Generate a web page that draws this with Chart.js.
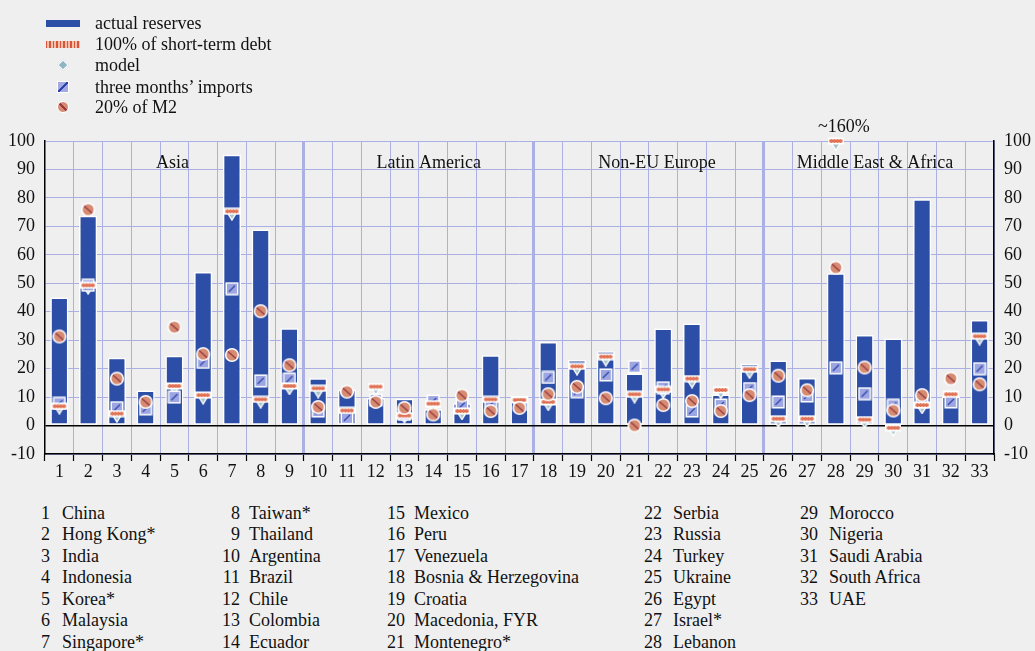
<!DOCTYPE html>
<html lang="en">
<head>
<meta charset="UTF-8">
<title>Reserve adequacy measures</title>
<script src="https://cdn.jsdelivr.net/npm/chart.js"></script>
<style>
    body {
        margin: 0;
        background: #efefef;
        font-family: "Liberation Serif", "Times New Roman", serif;
        color: #111;
    }
    #wrap { position: relative; width: 1035px; height: 651px; overflow: hidden; }
    #chart { position: absolute; left: 0; top: 0; }
    .sym { position: absolute; box-sizing: border-box; }
    .leg-text { position: absolute; left: 95px; font-size: 18px; line-height: 20px; white-space: nowrap; }
    .num, .name { position: absolute; font-size: 18px; line-height: 20px; white-space: nowrap; }
    .num { text-align: right; width: 30px; }
</style>
</head>
<body>
<div id="wrap">
    <canvas id="chart" width="1035" height="490"></canvas>
    <div id="legend"></div>
    <div id="names"></div>
</div>

<script>
    // categories (country numbers) and country names
    const categories = ['1','2','3','4','5','6','7','8','9','10','11','12','13','14','15','16','17',
        '18','19','20','21','22','23','24','25','26','27','28','29','30','31','32','33'];
    const countryNames = ['China','Hong Kong*','India','Indonesia','Korea*','Malaysia','Singapore*',
        'Taiwan*','Thailand','Argentina','Brazil','Chile','Colombia','Ecuador',
        'Mexico','Peru','Venezuela','Bosnia & Herzegovina','Croatia','Macedonia, FYR','Montenegro*',
        'Serbia','Russia','Turkey','Ukraine','Egypt','Israel*','Lebanon',
        'Morocco','Nigeria','Saudi Arabia','South Africa','UAE'];

    // regions: name, first and last category index
    const regionNames = ['Asia', 'Latin America', 'Non-EU Europe', 'Middle East & Africa'];
    const regionFirst = [0, 9, 17, 25];
    const regionLast = [8, 16, 24, 32];

    // series, % of GDP
    const actualReserves = [45, 73.7, 23.8, 12.3, 24.5, 54, 95.2, 68.9, 34.2,
        16.6, 12.6, 9.7, 9.4, 5.7, 7.8, 24.7, 10.4,
        29.4, 23, 26.1, 18.3, 34.1, 35.9, 10.9, 21.8,
        22.9, 16.7, 53.5, 31.8, 30.6, 79.5, 10.2, 37.1];
    const shortTermDebt = [6.8, 49.3, 4.2, null, 13.9, 10.7, 75.3, 9.2, 13.9,
        13.1, 5.3, 13.7, 3.5, 7.7, 5.1, 9.2, 9.0,
        8.3, 20.8, 24.2, 11.0, 12.7, 16.5, 12.5, 19.8,
        2.4, 2.4, 160, 2.1, -0.8, 7.2, 11.0, 31.4];
    const modelLevel = [5.9, 48, 3, null, 12.7, 9.4, 74, 8, 12.7,
        11.6, 4.5, 12.5, 2.7, 6.8, 3.9, 8, 7.8,
        7.1, 19.6, 22.8, 9.8, 11.4, 15.1, 11.3, 18.4,
        1.2, 1.2, 98.5, 0.9, -1.8, 6, 10, 30.2];
    const importsCover = [7.8, 49.3, 6.3, 5.9, 10, 22.2, 48.1, 15.7, 16.3,
        5.1, 2.7, 9, 3.9, 8.6, 7.1, 7.4, 7.4,
        16.9, 11.9, 17.8, 20.7, 13.3, 5.1, 7.2, 13,
        8.3, 10.4, 20.3, 11.2, 7.1, 8.3, 8.3, 20];
    const m2Share = [31.3, 75.9, 16.5, 8.3, 34.6, 25.1, 24.8, 40.2, 21.2,
        6.5, 11.9, 8.3, 6.2, 3.9, 10.6, 5.1, 6.2,
        11, 13.6, 9.6, 0, 7.2, 8.6, 5.1, 10.7,
        17.5, 12.4, 55.5, 20.4, 5.3, 10.7, 16.5, 14.5];
    const yTicks = [-10, 0, 10, 20, 30, 40, 50, 60, 70, 80, 90, 100];

    const gridColor = '#aab0e4';
    const barColor = '#2d4ea7';
    const serif = 'Liberation Serif';

    // the chart is cut at 100, values above are drawn on the top edge
    const yMax = 100;
    const clipTop = v => (v === null ? null : Math.min(v, yMax));

    // little marker pictures
    function makeIcon(w, h, draw) {
        const c = document.createElement('canvas');
        c.width = w; c.height = h;
        draw(c.getContext('2d'));
        return c;
    }
    const m2Icon = makeIcon(16, 16, g => {
        g.beginPath(); g.arc(8, 8, 6.3, 0, Math.PI * 2);
        g.fillStyle = '#d68b73'; g.fill();
        g.save(); g.clip();
        g.beginPath(); g.moveTo(3, 3.5); g.lineTo(13, 12.5);
        g.strokeStyle = '#9a3b3f'; g.lineWidth = 1.4; g.stroke();
        g.restore();
        g.beginPath(); g.arc(8, 8, 6.3, 0, Math.PI * 2);
        g.strokeStyle = '#fff'; g.lineWidth = 1.6; g.stroke();
    });
    const importsIcon = makeIcon(14, 14, g => {
        g.fillStyle = '#fff'; g.fillRect(0.5, 0.5, 13, 13);
        g.fillStyle = '#9ea6e2'; g.fillRect(2, 2, 10, 10);
        g.beginPath(); g.moveTo(4, 10); g.lineTo(10, 4);
        g.strokeStyle = '#2c45aa'; g.lineWidth = 1.3; g.stroke();
    });
    const modelIcon = makeIcon(14, 12, g => {
        g.beginPath(); g.moveTo(1.2, 1.5); g.lineTo(12.8, 1.5); g.lineTo(7, 11); g.closePath();
        g.fillStyle = '#a6c3cb'; g.fill();
        g.strokeStyle = '#fff'; g.lineWidth = 1.4; g.stroke();
    });
    const debtIcon = makeIcon(16, 8, g => {
        g.fillStyle = '#fff'; g.fillRect(0, 0.5, 16, 7);
        g.fillStyle = '#f2b49f'; g.fillRect(1.5, 2, 13, 4);
        g.fillStyle = '#d9553a'; g.fillRect(1.5, 3.3, 13, 1.5);
        g.fillStyle = '#e07a5c';
        for (let i = 3; i < 14; i += 3) g.fillRect(i, 2, 1, 4);
    });

    const regionLabels = {
        id: 'regionLabels',
        afterDatasetsDraw(chart) {
            const { ctx, scales: { x, y } } = chart;
            const shift = [-2, 10, 8, -4];
            ctx.save();
            ctx.font = '18px "' + serif + '"';
            ctx.fillStyle = '#111';
            ctx.textAlign = 'center';
            ctx.textBaseline = 'middle';
            regionNames.forEach((name, i) => {
                const mid = (x.getPixelForValue(regionFirst[i]) + x.getPixelForValue(regionLast[i])) / 2;
                ctx.fillText(name, mid + shift[i], y.getPixelForValue(92));
            });
            // off-scale value of short-term debt
            shortTermDebt.forEach((v, i) => {
                if (v !== null && v > yMax) {
                    ctx.fillText('~' + v + '%', x.getPixelForValue(i) + 8, y.getPixelForValue(yMax) - 14);
                }
            });
            ctx.restore();
        }
    };

    const ctx = document.getElementById('chart').getContext('2d');
    new Chart(ctx, {
        data: {
            labels: categories,
            datasets: [
                {
                    type: 'line', label: '20% of M2', data: m2Share, order: 1,
                    showLine: false, pointStyle: m2Icon, pointRadius: 7
                },
                {
                    type: 'line', label: '100% of short-term debt', data: shortTermDebt.map(clipTop), order: 2,
                    showLine: false, pointStyle: debtIcon, pointRadius: 7, clip: false
                },
                {
                    type: 'line', label: 'three months\u2019 imports', data: importsCover, order: 3,
                    showLine: false, pointStyle: importsIcon, pointRadius: 7
                },
                {
                    type: 'line', label: 'model', data: modelLevel, order: 4,
                    showLine: false, pointStyle: modelIcon, pointRadius: 7, clip: false
                },
                {
                    type: 'bar', label: 'actual reserves', data: actualReserves, order: 10,
                    backgroundColor: barColor, borderColor: '#ffffff', borderWidth: 1.5,
                    borderSkipped: false, barPercentage: 0.63, categoryPercentage: 1
                }
            ]
        },
        options: {
            responsive: false,
            devicePixelRatio: 1,
            animation: false,
            layout: { padding: { top: 141, left: 0, right: 0, bottom: 0 } },
            plugins: { legend: { display: false }, tooltip: { enabled: false } },
            scales: {
                x: {
                    afterFit: s => { s.height = 36; },
                    grid: {
                        offset: true,
                        color: c => (c.index === 0 || c.index >= categories.length ? 'rgba(0,0,0,0)' : gridColor),
                        lineWidth: c => ([9, 17, 25].includes(c.index) ? 3 : 1),
                        tickColor: '#000',
                        tickWidth: 1.2,
                        tickLength: 7
                    },
                    border: { color: '#000', width: 1.5 },
                    ticks: { color: '#111', font: { family: serif, size: 18 }, padding: 0, maxRotation: 0 }
                },
                y: {
                    position: 'left',
                    min: -10, max: 100,
                    afterFit: s => { s.width = 45; },
                    afterBuildTicks: s => { s.ticks = yTicks.map(v => ({ value: v })); },
                    grid: {
                        drawTicks: false,
                        color: c => (c.tick && c.tick.value === 0 ? '#000' : gridColor),
                        lineWidth: c => (c.tick && c.tick.value === 0 ? 1.5 : 1)
                    },
                    border: { color: '#000', width: 1.5 },
                    ticks: { color: '#111', font: { family: serif, size: 18 }, padding: 10 }
                },
                y2: {
                    position: 'right',
                    min: -10, max: 100,
                    afterFit: s => { s.width = 41; },
                    afterBuildTicks: s => { s.ticks = yTicks.map(v => ({ value: v })); },
                    grid: { display: false, drawTicks: false },
                    border: { color: '#000', width: 1.5 },
                    ticks: { color: '#111', font: { family: serif, size: 18 }, padding: 10 }
                }
            }
        },
        plugins: [regionLabels]
    });

    // legend (html)
    const legendItems = [
        { text: 'actual reserves', css: 'left:46px;top:20px;width:34px;height:7px;background:' + barColor },
        { text: '100% of short-term debt', css: 'left:46px;top:41px;width:34px;height:7px;' +
            'background:repeating-linear-gradient(90deg,#d9553a 0 1.5px,#f3c0ac 1.5px 3.5px)' },
        { text: 'model', css: 'left:59px;top:61px;width:8px;height:8px;transform:rotate(45deg);' +
            'background:#8fb5c2;border:1.5px solid #fff' },
        { text: 'three months\u2019 imports', css: 'left:57px;top:81px;width:12px;height:12px;' +
            'border:1.5px solid #fff;background:linear-gradient(135deg,#a3aae3 44%,#2c45aa 44% 56%,#a3aae3 56%)' },
        { text: '20% of M2', css: 'left:57px;top:101px;width:12px;height:12px;border-radius:50%;' +
            'border:1px solid #fff;background:linear-gradient(45deg,#d68b73 44%,#9a3b3f 44% 56%,#d68b73 56%)' }
    ];
    const legendY = [23, 44, 65, 87, 107];
    const legend = document.getElementById('legend');
    legendItems.forEach((item, i) => {
        const s = document.createElement('div');
        s.className = 'sym';
        s.style.cssText = item.css;
        legend.appendChild(s);
        const t = document.createElement('div');
        t.className = 'leg-text';
        t.style.top = (legendY[i] - 10) + 'px';
        t.textContent = item.text;
        legend.appendChild(t);
    });

    // country key under the chart
    const colStarts = [0, 7, 14, 21, 28];
    const colNumRight = [50, 240, 405, 662, 818];
    const colName = [62, 249, 414, 673, 829];
    const names = document.getElementById('names');
    countryNames.forEach((name, i) => {
        let col = 0;
        while (col + 1 < colStarts.length && i >= colStarts[col + 1]) col++;
        const row = i - colStarts[col];
        const top = 512.7 + row * 21.5 - 10;
        const n = document.createElement('div');
        n.className = 'num';
        n.style.left = (colNumRight[col] - 30) + 'px';
        n.style.top = top + 'px';
        n.textContent = categories[i];
        names.appendChild(n);
        const m = document.createElement('div');
        m.className = 'name';
        m.style.left = colName[col] + 'px';
        m.style.top = top + 'px';
        m.textContent = name;
        names.appendChild(m);
    });
</script>
</body>
</html>
